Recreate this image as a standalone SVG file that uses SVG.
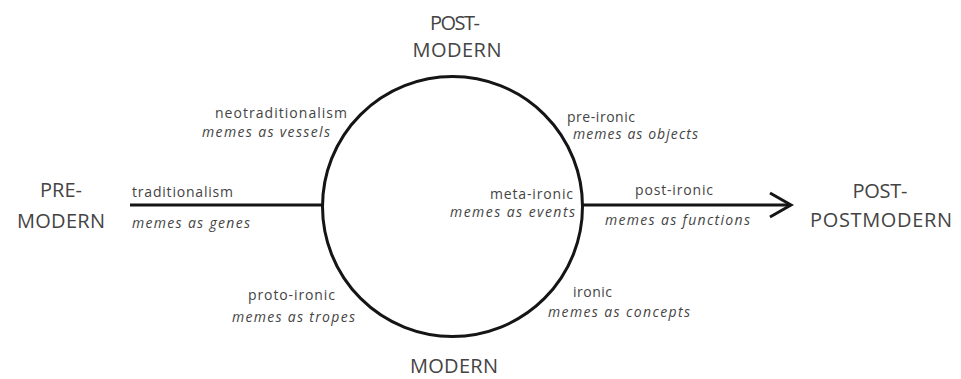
<svg xmlns="http://www.w3.org/2000/svg" width="961" height="379" viewBox="0 0 961 379">
<style>
.big{font-family:"Open Sans","Liberation Sans",sans-serif;font-size:20px;fill:#444;}
.sm{font-family:"Open Sans","Liberation Sans",sans-serif;font-size:14px;fill:#444;}
.it{font-style:italic;}
.ln{stroke:#151515;stroke-width:3;fill:none;}
</style>
<g id="connectors">
<line class="ln" x1="130" y1="205" x2="322" y2="205"/>
<line class="ln" x1="583" y1="205" x2="790" y2="205"/>
<polyline class="ln" points="770,193 791,205 770,217" stroke-width="3.5"/>
</g>
<g id="circle">
<circle class="ln" cx="452.5" cy="206.5" r="130"/>
</g>
<g id="pre-modern">
<text class="big" x="61" y="197" text-anchor="middle" textLength="42">PRE-</text>
<text class="big" x="61" y="228" text-anchor="middle" textLength="88">MODERN</text>
</g>
<g id="post-modern">
<text class="big" x="455" y="30" text-anchor="middle" textLength="50">POST-</text>
<text class="big" x="457" y="57" text-anchor="middle" textLength="89">MODERN</text>
</g>
<g id="modern">
<text class="big" x="454" y="373" text-anchor="middle" textLength="88">MODERN</text>
</g>
<g id="post-postmodern">
<text class="big" x="880" y="198" text-anchor="middle" textLength="55">POST-</text>
<text class="big" x="881" y="227" text-anchor="middle" textLength="142">POSTMODERN</text>
</g>
<g id="traditionalism">
<text class="sm" x="132" y="197" textLength="101">traditionalism</text>
<text class="sm it" x="132" y="228" textLength="118">memes as genes</text>
</g>
<g id="neotraditionalism">
<text class="sm" x="215" y="118" textLength="132">neotraditionalism</text>
<text class="sm it" x="202" y="137" textLength="128">memes as vessels</text>
</g>
<g id="proto-ironic">
<text class="sm" x="248" y="300" textLength="87">proto-ironic</text>
<text class="sm it" x="232" y="322" textLength="123">memes as tropes</text>
</g>
<g id="pre-ironic">
<text class="sm" x="567" y="122" textLength="68">pre-ironic</text>
<text class="sm it" x="573" y="139" textLength="125">memes as objects</text>
</g>
<g id="meta-ironic">
<text class="sm" x="490" y="199" textLength="83">meta-ironic</text>
<text class="sm it" x="450" y="217" textLength="125">memes as events</text>
</g>
<g id="post-ironic">
<text class="sm" x="635" y="195" textLength="78">post-ironic</text>
<text class="sm it" x="605" y="225" textLength="145">memes as functions</text>
</g>
<g id="ironic">
<text class="sm" x="573" y="297" textLength="39">ironic</text>
<text class="sm it" x="548" y="317" textLength="142">memes as concepts</text>
</g>
</svg>
